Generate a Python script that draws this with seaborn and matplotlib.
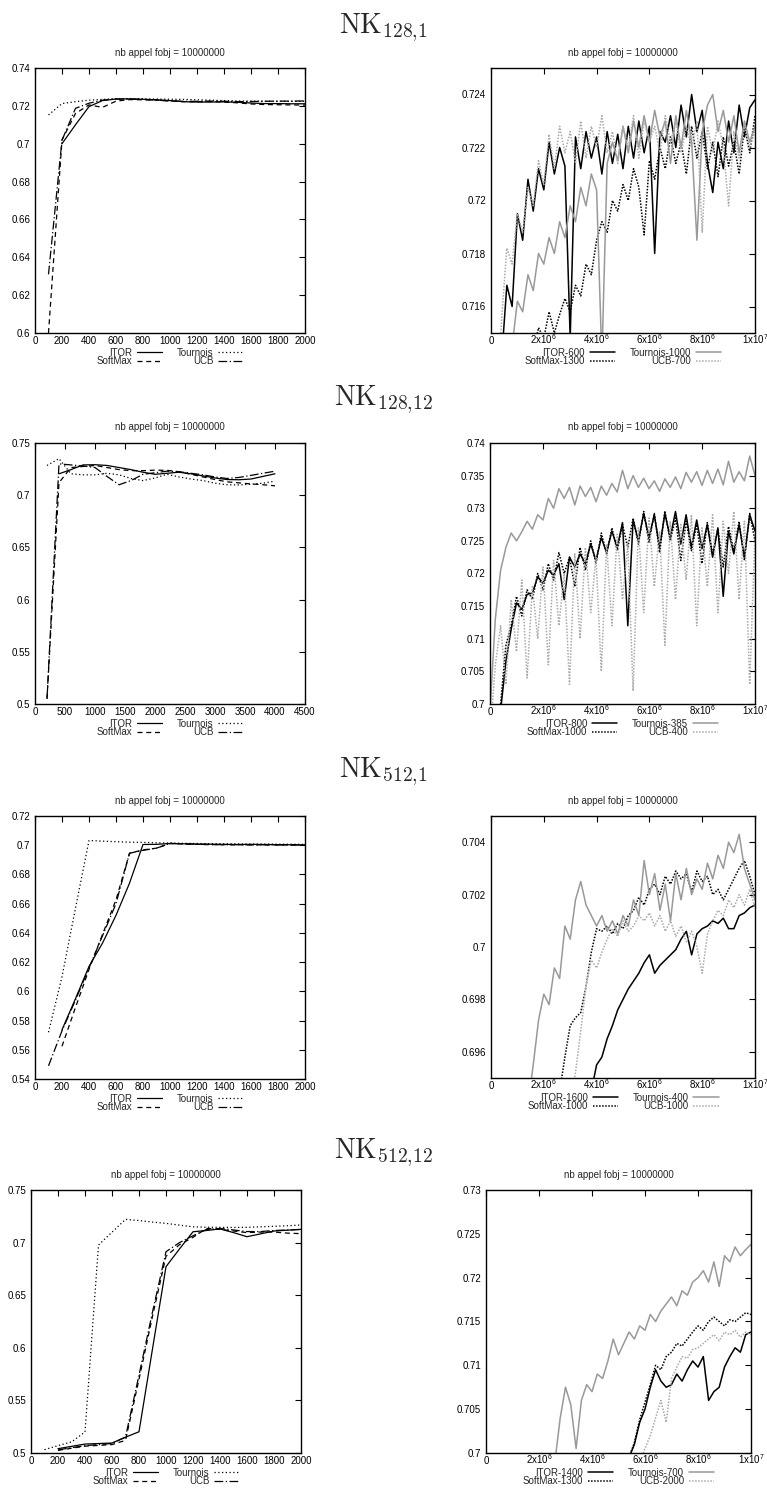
import numpy as np
import pandas as pd
import matplotlib
matplotlib.use("Agg")
import matplotlib.pyplot as plt
import seaborn as sns

nan = np.nan

# ---------------- data ----------------
# left column: best fitness vs parameter value
L1_x = np.arange(100, 2001, 100)
L1_itor = [nan, 0.700, 0.710, 0.7196, 0.7228, 0.7236, 0.7237, 0.7235, 0.7232, 0.7228,
           0.7222, 0.7220, 0.7220, 0.7221, 0.7219, 0.7215, 0.7212, 0.7212, 0.7211, 0.7211]
L1_softmax = [0.600, 0.702, 0.716, 0.7205, 0.7192, 0.7225, 0.7233, 0.7232, 0.7230, 0.7226,
              0.7222, 0.7222, 0.7223, 0.7220, 0.7216, 0.7210, 0.7207, 0.7206, 0.7205, 0.7204]
L1_tournois = [0.7152, 0.7212, 0.7222, 0.7230, 0.7234, 0.7238, 0.7238, 0.7237, 0.7236, 0.7235,
               0.7234, 0.7232, 0.7230, 0.7228, 0.7226, 0.7225, 0.7225, 0.7224, 0.7224, 0.7224]
L1_ucb = [0.631, 0.7019, 0.7187, 0.7214, 0.7230, 0.7236, 0.7236, 0.7234, 0.7230, 0.7226,
          0.7224, 0.7224, 0.7225, 0.7224, 0.7222, 0.7223, 0.7224, 0.7225, 0.7225, 0.7226]

L2_x = np.arange(200, 4001, 200)
L2_itor = [nan, 0.7205, 0.7245, 0.7290, 0.7292, 0.7285, 0.7265, 0.7245, 0.7220, 0.7200,
           0.7210, 0.7220, 0.7205, 0.7185, 0.7165, 0.7150, 0.7148, 0.7155, 0.7180, 0.7205]
L2_softmax = [0.505, 0.712, 0.7265, 0.7275, 0.7285, 0.7265, 0.7245, 0.7235, 0.7235, 0.7240,
              0.7238, 0.7225, 0.7200, 0.7175, 0.7150, 0.7128, 0.7118, 0.7108, 0.7100, 0.7090]
L2_tournois = [0.7285, 0.7350, 0.7205, 0.7195, 0.7195, 0.7210, 0.7195, 0.7160, 0.7140, 0.7165,
               0.7200, 0.7175, 0.7155, 0.7140, 0.7115, 0.7100, 0.7098, 0.7105, 0.7115, 0.7135]
L2_ucb = [0.505, 0.7300, 0.7290, 0.7280, 0.7265, 0.7180, 0.7100, 0.7140, 0.7200, 0.7215,
          0.7230, 0.7225, 0.7210, 0.7195, 0.7175, 0.7160, 0.7170, 0.7190, 0.7210, 0.7230]

L3_x = np.arange(100, 2001, 100)
L3_itor = [nan, 0.5737, 0.595, 0.617, 0.633, 0.652, 0.674, 0.7005, 0.7006, 0.7012,
           0.7010, 0.7008, 0.7007, 0.7006, 0.7005, 0.7006, 0.7005, 0.7004, 0.7003, 0.7002]
L3_softmax = [nan, 0.5624, 0.589, 0.615, 0.639, 0.6626, 0.6945, 0.6968, 0.6980, 0.7012,
              0.7008, 0.7006, 0.7004, 0.7004, 0.7003, 0.7003, 0.7002, 0.7002, 0.7002, 0.7001]
L3_tournois = [0.572, 0.610, 0.657, 0.7032, 0.7028, 0.7024, 0.7021, 0.7019, 0.7017, 0.7015,
               0.7013, 0.7012, 0.7011, 0.7010, 0.7009, 0.7008, 0.7008, 0.7007, 0.7007, 0.7006]
L3_ucb = [0.549, 0.573, 0.594, 0.616, 0.638, 0.660, 0.6945, 0.6965, 0.6980, 0.7012,
          0.7010, 0.7006, 0.7005, 0.7003, 0.7004, 0.7002, 0.7003, 0.7002, 0.7002, 0.7001]

L4_x = np.arange(100, 2001, 100)
L4_itor = [nan, 0.5041, 0.5063, 0.5085, 0.5090, 0.5095, 0.5150, 0.5202, 0.5990, 0.6771,
           0.6940, 0.7103, 0.7115, 0.7130, 0.7095, 0.7056, 0.7083, 0.7110, 0.7118, 0.7126]
L4_softmax = [nan, 0.5025, 0.5045, 0.5065, 0.5072, 0.5080, 0.5120, 0.5700, 0.6300, 0.6870,
              0.6980, 0.7050, 0.7135, 0.7125, 0.7110, 0.7095, 0.7100, 0.7100, 0.7090, 0.7085]
L4_tournois = [0.5032, 0.5070, 0.5105, 0.5200, 0.6977, 0.7099, 0.7221, 0.7210, 0.7195, 0.7183,
               0.7166, 0.7150, 0.7146, 0.7145, 0.7144, 0.7145, 0.7150, 0.7155, 0.7160, 0.7167]
L4_ucb = [nan, 0.5030, 0.5050, 0.5070, 0.5080, 0.5090, 0.5152, 0.5740, 0.6340, 0.6913,
          0.7000, 0.7065, 0.7125, 0.7135, 0.7120, 0.7105, 0.7105, 0.7115, 0.7120, 0.7125]

# right column: best fitness along the run (every 2x10^5 evaluations)
R_x = np.arange(51) * 2e5

R1_itor = [nan, nan, 0.7140, 0.7168, 0.7160, 0.7195, 0.7185, 0.7208, 0.7196, 0.7212,
           0.7204, 0.7222, 0.7210, 0.7220, 0.7213, 0.7148, 0.7224, 0.7212, 0.7226, 0.7216,
           0.7224, 0.7210, 0.7226, 0.7214, 0.7225, 0.7212, 0.7228, 0.7216, 0.7230, 0.7218,
           0.7228, 0.7180, 0.7226, 0.7222, 0.7232, 0.7220, 0.7236, 0.7224, 0.7240, 0.7226,
           0.7234, 0.7214, 0.7203, 0.7222, 0.7212, 0.7230, 0.7218, 0.7236, 0.7224, 0.7235,
           0.7238]
R1_softmax = [nan] * 8 + [0.7143, 0.7152,
              0.7148, 0.7158, 0.7150, 0.7157, 0.7163, 0.7158, 0.7168, 0.7164, 0.7176, 0.7172,
              0.7185, 0.7192, 0.7188, 0.7200, 0.7196, 0.7206, 0.7200, 0.7212, 0.7205, 0.7187,
              0.7215, 0.7208, 0.7220, 0.7212, 0.7224, 0.7214, 0.7222, 0.7210, 0.7228, 0.7216,
              0.7226, 0.7212, 0.7222, 0.7209, 0.7224, 0.7213, 0.7222, 0.7210, 0.7228, 0.7218,
              0.7232]
R1_tournois = [nan] * 4 + [0.7145, 0.7162, 0.7158, 0.7172, 0.7166, 0.7180,
               0.7176, 0.7186, 0.7180, 0.7192, 0.7186, 0.7198, 0.7192, 0.7205, 0.7198, 0.7210,
               0.7204, 0.7140, 0.7214, 0.7222, 0.7215, 0.7228, 0.7218, 0.7230, 0.7220, 0.7232,
               0.7222, 0.7234, 0.7224, 0.7230, 0.7214, 0.7232, 0.7220, 0.7234, 0.7222, 0.7185,
               0.7226, 0.7236, 0.7240, 0.7226, 0.7234, 0.7222, 0.7232, 0.7218, 0.7230, 0.7222,
               0.7228]
R1_ucb = [nan, 0.7120, 0.7155, 0.7182, 0.7176, 0.7195, 0.7188, 0.7205, 0.7198, 0.7215,
          0.7206, 0.7225, 0.7212, 0.7228, 0.7218, 0.7226, 0.7214, 0.7230, 0.7216, 0.7228,
          0.7220, 0.7232, 0.7218, 0.7226, 0.7214, 0.7228, 0.7220, 0.7232, 0.7216, 0.7230,
          0.7222, 0.7228, 0.7218, 0.7232, 0.7222, 0.7230, 0.7218, 0.7228, 0.7220, 0.7230,
          0.7188, 0.7228, 0.7218, 0.7230, 0.7220, 0.7198, 0.7226, 0.7216, 0.7228, 0.7220,
          0.7226]

R2_itor = [nan, nan, 0.6990, 0.7065, 0.7115, 0.7155, 0.7145, 0.7168, 0.7170, 0.7195,
           0.7185, 0.7205, 0.7198, 0.7215, 0.7160, 0.7225, 0.7210, 0.7230, 0.7215, 0.7245,
           0.7220, 0.7255, 0.7232, 0.7265, 0.7240, 0.7278, 0.7120, 0.7282, 0.7250, 0.7292,
           0.7255, 0.7290, 0.7240, 0.7292, 0.7255, 0.7295, 0.7245, 0.7290, 0.7240, 0.7282,
           0.7238, 0.7275, 0.7225, 0.7270, 0.7165, 0.7265, 0.7230, 0.7275, 0.7225, 0.7290,
           0.7265]
R2_softmax = [nan, nan, 0.7000, 0.7090, 0.7120, 0.7165, 0.7135, 0.7175, 0.7160, 0.7200,
              0.7175, 0.7215, 0.7190, 0.7232, 0.7200, 0.7225, 0.7180, 0.7240, 0.7205, 0.7250,
              0.7215, 0.7262, 0.7230, 0.7270, 0.7235, 0.7275, 0.7240, 0.7285, 0.7245, 0.7295,
              0.7248, 0.7292, 0.7232, 0.7296, 0.7250, 0.7285, 0.7220, 0.7280, 0.7235, 0.7275,
              0.7215, 0.7278, 0.7230, 0.7268, 0.7210, 0.7272, 0.7235, 0.7280, 0.7220, 0.7292,
              0.7250]
R2_tournois = [0.6990, 0.7130, 0.7205, 0.7240, 0.7262, 0.7250, 0.7264, 0.7280, 0.7268, 0.7290,
               0.7282, 0.7315, 0.7300, 0.7330, 0.7315, 0.7332, 0.7305, 0.7334, 0.7318, 0.7332,
               0.7310, 0.7334, 0.7320, 0.7338, 0.7325, 0.7358, 0.7330, 0.7350, 0.7332, 0.7346,
               0.7330, 0.7342, 0.7326, 0.7345, 0.7332, 0.7348, 0.7330, 0.7355, 0.7340, 0.7356,
               0.7335, 0.7358, 0.7338, 0.7360, 0.7336, 0.7372, 0.7340, 0.7356, 0.7342, 0.7380,
               0.7350]
R2_ucb = [0.6950, 0.7060, 0.7120, 0.7030, 0.7160, 0.7080, 0.7190, 0.7040, 0.7180, 0.7100,
          0.7210, 0.7060, 0.7220, 0.7120, 0.7200, 0.7030, 0.7230, 0.7100, 0.7240, 0.7140,
          0.7225, 0.7050, 0.7245, 0.7120, 0.7260, 0.7160, 0.7245, 0.7020, 0.7270, 0.7140,
          0.7285, 0.7180, 0.7265, 0.7090, 0.7280, 0.7160, 0.7275, 0.7190, 0.7290, 0.7120,
          0.7270, 0.7180, 0.7290, 0.7140, 0.7280, 0.7200, 0.7295, 0.7160, 0.7280, 0.7030,
          0.7260]

R3_itor = [nan] * 19 + [0.6945,
           0.6955, 0.6958, 0.6965, 0.6970, 0.6976, 0.6980, 0.6984, 0.6987, 0.6990, 0.6994,
           0.6997, 0.6990, 0.6993, 0.6995, 0.6997, 0.6999, 0.7003, 0.7006, 0.6997, 0.7005,
           0.7007, 0.7008, 0.7010, 0.7009, 0.7011, 0.7007, 0.7007, 0.7012, 0.7013, 0.7015,
           0.7016]
R3_softmax = [nan] * 13 + [0.6945, 0.6958, 0.6970, 0.6973, 0.6975, 0.6985, 0.6998,
              0.7007, 0.7006, 0.7008, 0.7005, 0.7009, 0.7007, 0.7012, 0.7014, 0.7019, 0.7016,
              0.7022, 0.7024, 0.7020, 0.7027, 0.7024, 0.7029, 0.7026, 0.7028, 0.7021, 0.7029,
              0.7025, 0.7027, 0.7020, 0.7022, 0.7018, 0.7022, 0.7026, 0.7030, 0.7033, 0.7027,
              0.7020]
R3_tournois = [nan] * 7 + [0.6940, 0.6955, 0.6972,
               0.6982, 0.6978, 0.6992, 0.6988, 0.7008, 0.7003, 0.7018, 0.7025, 0.7016, 0.7012,
               0.7008, 0.7012, 0.7006, 0.7010, 0.7005, 0.7012, 0.7008, 0.7018, 0.7012, 0.7033,
               0.7020, 0.7028, 0.7014, 0.7024, 0.7010, 0.7028, 0.7018, 0.7030, 0.7020, 0.7026,
               0.7022, 0.7032, 0.7026, 0.7035, 0.7030, 0.7040, 0.7036, 0.7043, 0.7030, 0.7024,
               0.7018]
R3_ucb = [nan] * 15 + [0.6940, 0.6952, 0.6968, 0.6985, 0.6995,
          0.6992, 0.6998, 0.7003, 0.7007, 0.7004, 0.7010, 0.7006, 0.7008, 0.7012, 0.7010,
          0.7013, 0.7008, 0.7012, 0.7006, 0.7010, 0.7004, 0.7008, 0.7002, 0.7006, 0.7000,
          0.6990, 0.7005, 0.7010, 0.7014, 0.7012, 0.7018, 0.7015, 0.7020, 0.7016, 0.7022,
          0.7015]

R4_itor = [nan] * 27 + [0.6995, 0.7010, 0.7035,
           0.7050, 0.7075, 0.7095, 0.7082, 0.7075, 0.7078, 0.7090, 0.7082, 0.7095, 0.7105,
           0.7098, 0.7110, 0.7060, 0.7070, 0.7075, 0.7098, 0.7110, 0.7120, 0.7115, 0.7135,
           0.7138]
R4_softmax = [nan] * 27 + [0.6995, 0.7012, 0.7038,
              0.7058, 0.7078, 0.7100, 0.7095, 0.7110, 0.7115, 0.7125, 0.7122, 0.7130, 0.7138,
              0.7145, 0.7140, 0.7150, 0.7155, 0.7150, 0.7145, 0.7152, 0.7150, 0.7155, 0.7160,
              0.7158]
R4_tournois = [nan] * 13 + [0.6990, 0.7040, 0.7075, 0.7055, 0.7005, 0.7060, 0.7078,
               0.7070, 0.7090, 0.7085, 0.7105, 0.7130, 0.7112, 0.7125, 0.7138, 0.7130, 0.7145,
               0.7140, 0.7158, 0.7150, 0.7162, 0.7170, 0.7178, 0.7168, 0.7185, 0.7180, 0.7195,
               0.7200, 0.7208, 0.7195, 0.7218, 0.7190, 0.7225, 0.7218, 0.7235, 0.7225, 0.7232,
               0.7238]
R4_ucb = [nan] * 29 + [0.6990,
          0.7005, 0.7020, 0.7040, 0.7060, 0.7035, 0.7085, 0.7098, 0.7110, 0.7108, 0.7118,
          0.7120, 0.7125, 0.7130, 0.7135, 0.7128, 0.7138, 0.7135, 0.7140, 0.7132, 0.7138,
          0.7135]

# labels
titles = [r"$\mathrm{NK}_{128,\!1}$", r"$\mathrm{NK}_{128,\!12}$",
          r"$\mathrm{NK}_{512,\!1}$", r"$\mathrm{NK}_{512,\!12}$"]
left_names = ["ITOR", "SoftMax", "Tournois", "UCB"]
right_names = [["ITOR-600", "SoftMax-1300", "Tournois-1000", "UCB-700"],
               ["ITOR-800", "SoftMax-1000", "Tournois-385", "UCB-400"],
               ["ITOR-1600", "SoftMax-1000", "Tournois-400", "UCB-1000"],
               ["ITOR-1400", "SoftMax-1300", "Tournois-700", "UCB-2000"]]

x2000_ticks = [0, 200, 400, 600, 800, 1000, 1200, 1400, 1600, 1800, 2000]
x4500_ticks = [0, 500, 1000, 1500, 2000, 2500, 3000, 3500, 4000, 4500]
r_xticks = [0, 2e6, 4e6, 6e6, 8e6, 1e7]
r_xticklabels = ["0", "2x10$^{6}$", "4x10$^{6}$", "6x10$^{6}$", "8x10$^{6}$", "1x10$^{7}$"]

L1_yticks = [0.6, 0.62, 0.64, 0.66, 0.68, 0.7, 0.72, 0.74]
L1_ylabels = ["0.6", "0.62", "0.64", "0.66", "0.68", "0.7", "0.72", "0.74"]
L2_yticks = [0.5, 0.55, 0.6, 0.65, 0.7, 0.75]
L2_ylabels = ["0.5", "0.55", "0.6", "0.65", "0.7", "0.75"]
L3_yticks = [0.54, 0.56, 0.58, 0.6, 0.62, 0.64, 0.66, 0.68, 0.7, 0.72]
L3_ylabels = ["0.54", "0.56", "0.58", "0.6", "0.62", "0.64", "0.66", "0.68", "0.7", "0.72"]
R1_yticks = [0.716, 0.718, 0.72, 0.722, 0.724]
R1_ylabels = ["0.716", "0.718", "0.72", "0.722", "0.724"]
R2_yticks = [0.7, 0.705, 0.71, 0.715, 0.72, 0.725, 0.73, 0.735, 0.74]
R2_ylabels = ["0.7", "0.705", "0.71", "0.715", "0.72", "0.725", "0.73", "0.735", "0.74"]
R3_yticks = [0.696, 0.698, 0.7, 0.702, 0.704]
R3_ylabels = ["0.696", "0.698", "0.7", "0.702", "0.704"]
R4_yticks = [0.7, 0.705, 0.71, 0.715, 0.72, 0.725, 0.73]
R4_ylabels = ["0.7", "0.705", "0.71", "0.715", "0.72", "0.725", "0.73"]

# ---------------- style ----------------
sns.set_style("white")
plt.rcParams["font.family"] = ["Liberation Sans", "DejaVu Sans"]
plt.rcParams["mathtext.fontset"] = "custom"
plt.rcParams["mathtext.rm"] = "Liberation Sans"
plt.rcParams["mathtext.it"] = "Liberation Sans:italic"
plt.rcParams["axes.edgecolor"] = "black"
plt.rcParams["axes.linewidth"] = 1.0

W, H = 767, 1490
left_colors = ["black", "black", "black", "black"]
left_dashes = ["", (4, 3), (1, 2), (7, 2, 1, 2)]
right_colors = ["black", "black", "#999999", "#aaaaaa"]
right_dashes = ["", (1, 1), "", (1, 1)]


def draw(ax, x, values, names, colors, dashes, lw, xlim, ylim,
         xticks, xticklabels, yticks, yticklabels):
    df = pd.DataFrame({"x": x})
    for n, v in zip(names, values):
        df[n] = v
    long = df.melt(id_vars="x", var_name="serie", value_name="y").dropna()
    sns.lineplot(data=long, x="x", y="y", hue="serie", style="serie",
                 hue_order=names, style_order=names,
                 palette=dict(zip(names, colors)), dashes=dict(zip(names, dashes)),
                 estimator=None, errorbar=None, legend=False, linewidth=lw, ax=ax)
    ax.set_xlim(*xlim)
    ax.set_ylim(*ylim)
    ax.set_xticks(xticks)
    ax.set_xticklabels(xticklabels)
    ax.set_yticks(yticks)
    ax.set_yticklabels(yticklabels)
    ax.set_xlabel("")
    ax.set_ylabel("")
    ax.tick_params(direction="in", top=True, right=True, length=4, width=0.8,
                   labelsize=7, colors="black")
    ax.tick_params(axis="y", pad=3.5)
    ax.tick_params(axis="x", pad=8)
    for lbl in ax.get_xticklabels():
        lbl.set_verticalalignment("baseline")
    ax.set_title("nb appel fobj = 10000000", fontsize=7, pad=9)
    ax.legend(ax.get_lines()[:4], names, ncol=2, loc="upper center",
              bbox_to_anchor=(0.5, -0.056), frameon=False, fontsize=7,
              markerfirst=False, handlelength=2.6, handletextpad=0.5,
              columnspacing=1.5, labelspacing=-0.15, borderpad=0, borderaxespad=0)


def rect(x0, y0, x1, y1):
    return [x0 / W, 1 - y1 / H, (x1 - x0) / W, (y1 - y0) / H]


fig = plt.figure(figsize=(W / 100, H / 100), dpi=100)

left_boxes = [(35, 68, 305, 333), (35, 443, 305, 704), (35, 816, 305, 1079), (31, 1190, 301, 1453)]
right_boxes = [(491, 68, 755, 333), (490, 443, 755, 704), (491, 816, 755, 1078), (486, 1190, 751, 1453)]
title_baselines = [33, 405, 777, 1158]

left_panels = [
    (L1_x, [L1_itor, L1_softmax, L1_tournois, L1_ucb], (0, 2000), (0.6, 0.74), x2000_ticks, L1_yticks, L1_ylabels),
    (L2_x, [L2_itor, L2_softmax, L2_tournois, L2_ucb], (0, 4500), (0.5, 0.75), x4500_ticks, L2_yticks, L2_ylabels),
    (L3_x, [L3_itor, L3_softmax, L3_tournois, L3_ucb], (0, 2000), (0.54, 0.72), x2000_ticks, L3_yticks, L3_ylabels),
    (L4_x, [L4_itor, L4_softmax, L4_tournois, L4_ucb], (0, 2000), (0.5, 0.75), x2000_ticks, L2_yticks, L2_ylabels),
]
right_panels = [
    ([R1_itor, R1_softmax, R1_tournois, R1_ucb], (0.715, 0.725), R1_yticks, R1_ylabels),
    ([R2_itor, R2_softmax, R2_tournois, R2_ucb], (0.7, 0.74), R2_yticks, R2_ylabels),
    ([R3_itor, R3_softmax, R3_tournois, R3_ucb], (0.695, 0.705), R3_yticks, R3_ylabels),
    ([R4_itor, R4_softmax, R4_tournois, R4_ucb], (0.7, 0.73), R4_yticks, R4_ylabels),
]

for row in range(4):
    fig.text(0.5, 1 - title_baselines[row] / H, titles[row], ha="center", va="baseline",
             fontsize=20, math_fontfamily="cm")

    x, vals, xlim, ylim, xt, yt, yl = left_panels[row]
    ax = fig.add_axes(rect(*left_boxes[row]))
    draw(ax, x, vals, left_names, left_colors, left_dashes, 0.9, xlim, ylim,
         xt, [str(t) for t in xt], yt, yl)

    vals, ylim, yt, yl = right_panels[row]
    ax = fig.add_axes(rect(*right_boxes[row]))
    draw(ax, R_x, vals, right_names[row], right_colors, right_dashes, 1.1, (0, 1e7), ylim,
         r_xticks, r_xticklabels, yt, yl)

fig.savefig("out.png", dpi=100)
